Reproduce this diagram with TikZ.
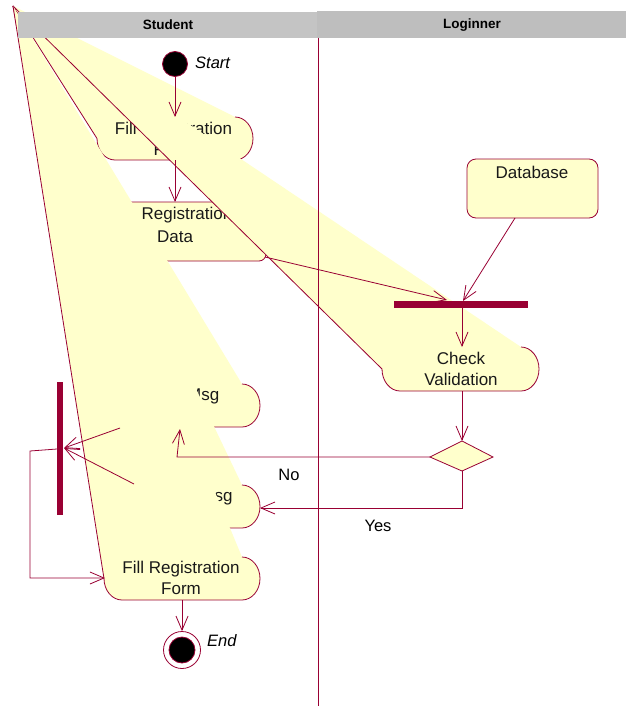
\documentclass[tikz,border=0pt]{standalone}
\usepackage{fontspec}
\setmainfont{Liberation Sans}
\usetikzlibrary{arrows.meta}

\definecolor{rosered}{RGB}{153,0,51}
\definecolor{roseyellow}{RGB}{255,255,204}
\definecolor{studentgray}{RGB}{196,196,196}
\definecolor{lanegray}{RGB}{190,190,190}

% Activity state whose upper-left corner is pulled to (corner):
% #1 name, #2 left x, #3 x where the right cap starts, #4 top y, #5 bottom y
\newcommand\pulledact[5]{%
  \pgfmathsetmacro\actym{(#4+#5)/2}%
  \pgfmathsetmacro\actky{0.5523*(#5-#4)/2}%
  \fill[roseyellow] (corner) -- (#3,#4)
    .. controls ({#3+9.94},#4) and ({#3+18},{\actym-\actky}) .. ({#3+18},\actym)
    .. controls ({#3+18},{\actym+\actky}) and ({#3+9.94},#5) .. (#3,#5)
    -- ({#2+18},#5)
    .. controls ({#2+8.06},#5) and (#2,{\actym+\actky}) .. (#2,\actym) -- cycle;
  \draw[outline] (#3,#4)
    .. controls ({#3+9.94},#4) and ({#3+18},{\actym-\actky}) .. ({#3+18},\actym)
    .. controls ({#3+18},{\actym+\actky}) and ({#3+9.94},#5) .. (#3,#5)
    -- ({#2+18},#5)
    .. controls ({#2+8.06},#5) and (#2,{\actym+\actky}) .. (#2,\actym) -- (corner);
  \coordinate (#1-c) at ({(#2+#3+18)/2},\actym);
}

\begin{document}
\begin{tikzpicture}[x=1pt,y=-1pt,
  outline/.style={draw=rosered,line width=0.8pt},
  flow/.style={draw=rosered,line width=0.8pt,-{Straight Barb[length=14pt,width=12pt]}},
  acttext/.style={align=center,inner sep=0pt,text=black!90,
    font=\fontsize{17}{21}\selectfont},
  lanetitle/.style={inner sep=0pt,font=\fontsize{13.5}{16}\selectfont\bfseries},
  smalltext/.style={inner sep=0pt,font=\fontsize{16.5}{20}\selectfont},
  bar/.style={fill=rosered,inner sep=0pt}]

\useasboundingbox (0,0) rectangle (626,706);
\fill[white] (0,0) rectangle (626,706);

\coordinate (corner) at (13,6);

% Fill Registration Form (first)
\pulledact{fillA}{97}{235}{117}{160}
\node[acttext] (fillA-t) at (173.5,138.5) {Fill Registration\\Form};

% Registration Data object
\draw[outline,fill=roseyellow,rounded corners=7pt] (88,202) rectangle (266,261);
\node[acttext] (regdata-t1) at (187,215) {Registration};
\node[acttext] (regdata-t2) at (175,237) {Data};

% Database object
\draw[outline,fill=roseyellow,rounded corners=9pt] (467,159) rectangle (598,218);
\node[acttext] (db-t) at (532,172) {Database};

% Check Validation
\pulledact{check}{382}{521}{347}{391}
\node[acttext] (check-t) at (461,368.5) {Check\\Validation};

% Error Msg
\pulledact{err}{104}{242}{384}{427}
\node[acttext] (err-t) at (182,396) {Error Msg};

% Success Msg
\pulledact{succ}{104}{242}{485}{528}
\node[acttext] (succ-t) at (182,497) {Success Msg};

% Fill Registration Form (again)
\pulledact{fillB}{104}{242}{557}{600}
\node[acttext] (fillB-t) at (181,578) {Fill Registration\\Form};

% swimlane headers and divider
\fill[studentgray] (18,12) rectangle (317,38);
\fill[lanegray] (317,11) rectangle (626,38);
\node[lanetitle] (lane1) at (168,25) {Student};
\node[lanetitle] (lane2) at (472,25) {Loginner};
\draw[draw=rosered,line width=1pt] (318,38) -- (318,706);

% start and end
\node[circle,fill=black,draw=rosered,line width=0.8pt,minimum size=25pt,inner sep=0pt] (start) at (175,64) {};
\node[smalltext,anchor=west] (start-l) at (195,63) {\itshape Start};
\node[circle,fill=white,draw=rosered,line width=0.8pt,minimum size=37pt,inner sep=0pt] (end) at (182,650) {};
\node[circle,fill=black,draw=rosered,line width=0.8pt,minimum size=26pt,inner sep=0pt] (endcore) at (182,650) {};
\node[smalltext,anchor=west] (end-l) at (207,641) {\itshape End};

% synchronisation bars
\node[bar,minimum width=134pt,minimum height=7pt] (hbar) at (461,304.5) {};
\node[bar,minimum width=6pt,minimum height=133pt] (vbar) at (60,448.5) {};

% decision
\coordinate (dia-w) at (430,457);
\coordinate (dia-n) at (462,441);
\coordinate (dia-e) at (493,457);
\coordinate (dia-s) at (462,471);
\draw[outline,fill=roseyellow] (dia-w) -- (dia-n) -- (dia-e) -- (dia-s) -- cycle;

% connector end points
\coordinate (fillA-top) at (175,117);
\coordinate (fillA-bot) at (175,160);
\coordinate (regdata-top) at (175,202);
\coordinate (regdata-out) at (265,257);
\coordinate (hbar-in1) at (447,300);
\coordinate (db-out) at (515,218);
\coordinate (hbar-in2) at (463,301);
\coordinate (hbar-out) at (462,308);
\coordinate (check-top) at (462,347);
\coordinate (check-bot) at (462,391);
\coordinate (no-turn) at (177,457);
\coordinate (err-in) at (180,429);
\coordinate (yes-turn) at (462,508);
\coordinate (succ-in) at (260,508);
\coordinate (err-out) at (120,428);
\coordinate (succ-out) at (134,484);
\coordinate (vbar-in) at (64,448);
\coordinate (vbar-out) at (57,449);
\coordinate (loop-a) at (30,451);
\coordinate (loop-b) at (30,578);
\coordinate (fillB-in) at (105,578);
\coordinate (fillB-bot) at (182,600);

% flows
\draw[flow] (start.south) -- (fillA-top);
\draw[flow] (fillA-bot) -- (regdata-top);
\draw[flow] (regdata-out) -- (hbar-in1);
\draw[flow] (db-out) -- (hbar-in2);
\draw[flow] (hbar-out) -- (check-top);
\draw[flow] (check-bot) -- (dia-n);
\draw[flow] (dia-w) -- (no-turn) -- (err-in);
\draw[flow] (dia-s) -- (yes-turn) -- (succ-in);
\draw[flow] (err-out) -- (vbar-in);
\draw[flow] (succ-out) -- (vbar-in);
\draw[flow] (vbar-out) -- (loop-a) -- (loop-b) -- (fillB-in);
\draw[flow] (fillB-bot) -- (end.north);

\node[smalltext] (no-l) at (289,475) {No};
\node[smalltext] (yes-l) at (378,526) {Yes};

\end{tikzpicture}
\end{document}
